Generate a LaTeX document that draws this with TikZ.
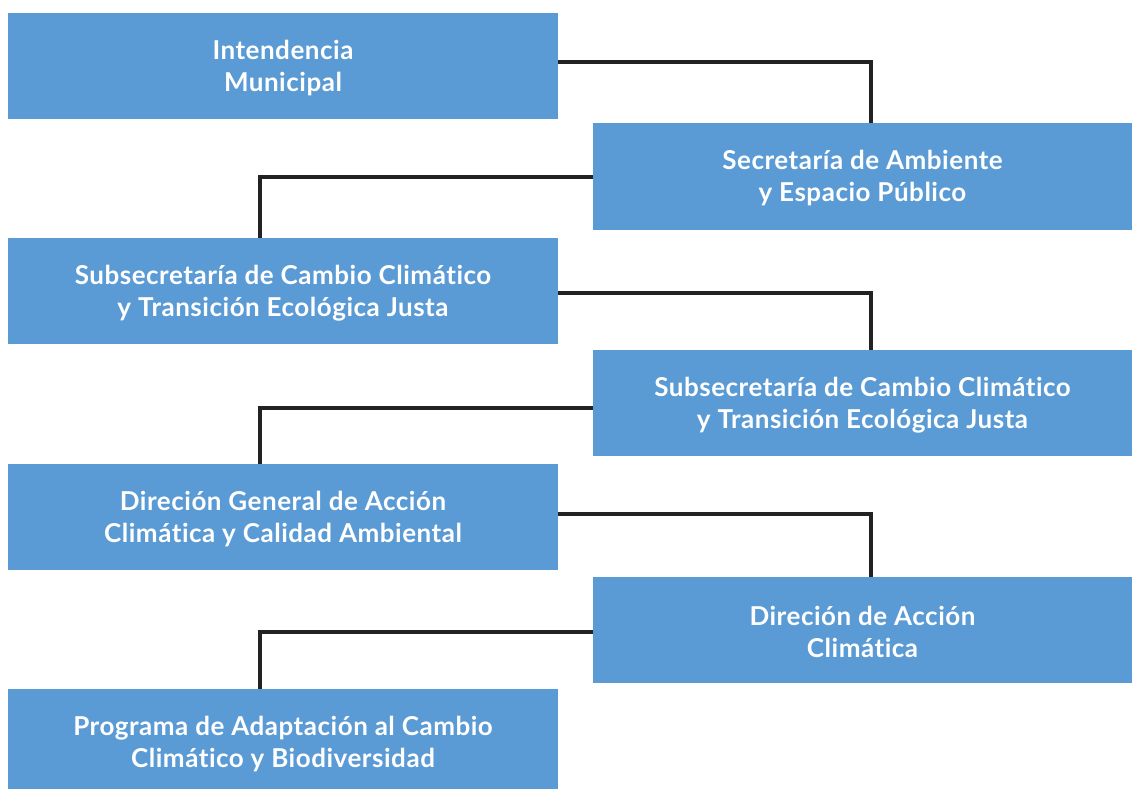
\documentclass[tikz,border=0pt]{standalone}
\usepackage{fontspec}
\setmainfont[LetterSpace=2,RawFeature=-liga]{Lato}
\begin{document}
\begin{tikzpicture}[x=1pt,y=-1pt,
  orgbox/.style={fill=boxblue,draw=none,text=white,inner sep=0pt,
    minimum width=550pt,minimum height=106pt},
  rbox/.style={orgbox,minimum width=539pt},
  boxtext/.style={text=white,align=center,inner sep=0pt,yshift=-2pt,
    font=\bfseries\fontsize{26}{32}\selectfont},
  link/.style={draw=linegray,line width=3.5pt}]
\definecolor{boxblue}{HTML}{5B9BD5}
\definecolor{linegray}{HTML}{222222}
\useasboundingbox[fill=white] (0,0) rectangle (1132,789);
\node[orgbox,label={[boxtext]center:Intendencia\\Municipal}] (l1) at (283,66) {};
\node[rbox,label={[boxtext]center:Secretaría de Ambiente\\y Espacio Público}] (r1) at (862.5,176.5) {};
\node[orgbox,label={[boxtext]center:Subsecretaría de Cambio Climático\\y Transición Ecológica Justa}] (l2) at (283,291) {};
\node[rbox,label={[boxtext]center:Subsecretaría de Cambio Climático\\y Transición Ecológica Justa}] (r2) at (862.5,403) {};
\node[orgbox,label={[boxtext]center:Direción General de Acción\\Climática y Calidad Ambiental}] (l3) at (283,517) {};
\node[rbox,label={[boxtext]center:Direción de Acción\\Climática}] (r3) at (862.5,630) {};
\node[orgbox,minimum height=100pt,label={[boxtext,yshift=-3pt]center:Programa de Adaptación al Cambio\\Climático y Biodiversidad}] (l4) at (283,739) {};
\draw[link] (l1.east |- 0,62) -| (r1.north -| 871,0);
\draw[link] (r1.west |- 0,177) -| (l2.north -| 260,0);
\draw[link] (l2.east |- 0,293) -| (r2.north -| 871,0);
\draw[link] (r2.west |- 0,408) -| (l3.north -| 260,0);
\draw[link] (l3.east |- 0,514) -| (r3.north -| 871,0);
\draw[link] (r3.west |- 0,632) -| (l4.north -| 260,0);
\end{tikzpicture}
\end{document}
